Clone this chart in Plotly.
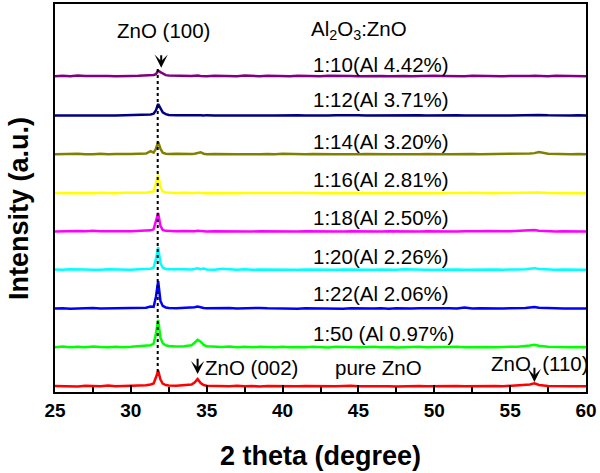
import plotly.graph_objects as go

# 2-theta positions (degree)
two_theta = [25.0, 25.5, 26.0, 26.5, 27.0, 27.5, 28.0, 28.5, 29.0, 29.5,
             30.0, 30.5, 31.0, 31.3, 31.5, 31.65, 31.8, 31.95, 32.1, 32.3,
             32.5, 33.0, 33.5, 34.0, 34.2, 34.4, 34.6, 34.8, 35.0, 35.5,
             36.0, 36.5, 37.0, 37.5, 38.0, 38.5, 39.0, 39.5, 40.0, 40.5,
             41.0, 41.5, 42.0, 42.5, 43.0, 43.5, 44.0, 44.5, 45.0, 45.5,
             46.0, 46.5, 47.0, 47.5, 48.0, 48.5, 49.0, 49.5, 50.0, 50.5,
             51.0, 51.5, 52.0, 52.5, 53.0, 53.5, 54.0, 54.5, 55.0, 55.5,
             56.0, 56.3, 56.6, 56.9, 57.5, 58.0, 58.5, 59.0, 59.5, 60.0]

pure_zno = [0.5, 0.2, 0.6, 0.1, 0.8, 0.3, 0.4, 1.0, 0.2, 0.5,
            0.7, 0.9, 1.2, 2.0, 3.0, 9.0, 16.0, 7.0, 3.0, 1.5,
            1.0, 0.8, 1.2, 2.0, 4.0, 7.5, 3.5, 1.5, 0.8, 0.5,
            0.6, 0.3, 0.7, 0.2, 0.5, 0.1, 0.6, 0.4, 0.3, 0.7,
            0.2, 0.5, 0.3, 0.8, 0.4, 0.2, 0.6, 0.9, 0.3, 0.5,
            0.2, 0.7, 0.4, 0.1, 0.5, 0.3, 0.6, 0.2, 0.4, 0.5,
            0.3, 0.6, 0.2, 0.4, 0.7, 0.3, 0.5, 0.2, 0.6, 0.8,
            1.2, 2.0, 3.2, 1.5, 0.6, 0.3, 0.5, 0.2, 0.4, 0.3]

r1_50 = [0.5, 1.2, 0.6, 1.0, 0.4, 1.3, 0.7, 0.5, 1.1, 0.6,
         0.9, 1.3, 1.8, 2.5, 4.0, 14.0, 28.0, 10.0, 4.5, 2.5,
         1.8, 1.2, 1.5, 2.5, 5.0, 8.0, 6.0, 2.8, 1.5, 1.0,
         0.8, 1.2, 0.6, 0.9, 0.4, 1.0, 0.7, 0.5, 0.9, 0.4,
         0.8, 0.5, 1.0, 0.6, 0.3, 0.9, 0.5, 0.8, 0.4, 0.7,
         1.0, 0.5, 0.8, 0.3, 0.7, 0.5, 0.9, 0.4, 0.6, 0.8,
         0.5, 0.9, 0.4, 0.7, 0.3, 0.8, 0.6, 0.4, 0.9, 1.0,
         1.5, 2.2, 3.0, 2.0, 1.0, 0.6, 0.8, 0.4, 0.7, 0.5]

r1_22 = [0.4, 0.8, 0.3, 0.7, 0.5, 0.9, 0.4, 0.6, 0.3, 0.8,
         0.5, 0.9, 1.2, 2.5, 2.0, 12.0, 28.0, 8.0, 3.0, 1.5,
         1.0, 0.8, 1.0, 1.2, 1.8, 2.5, 1.5, 1.0, 0.6, 0.8,
         0.5, 0.9, 0.4, 0.7, 0.5, 1.0, 0.6, 0.4, 0.8, 0.5,
         0.3, 0.7, 0.5, 0.9, 0.4, 0.6, 0.3, 0.8, 0.5, 0.7,
         0.4, 0.6, 0.3, 0.8, 0.5, 0.4, 0.7, 0.5, 0.3, 0.6,
         0.8, 0.4, 1.5, 0.5, 0.7, 0.4, 0.6, 0.5, 0.8, 0.6,
         1.0, 1.5, 2.0, 1.2, 0.6, 0.8, 0.4, 0.6, 0.5, 0.4]

r1_20 = [0.6, 0.3, 0.8, 0.4, 0.7, 0.5, 0.3, 0.9, 0.5, 0.6,
         0.4, 0.8, 1.0, 1.5, 2.5, 11.0, 23.0, 7.0, 2.5, 1.2,
         0.8, 0.5, 0.9, 0.7, 1.2, 1.8, 1.0, 1.5, 0.7, 0.5,
         1.4, 0.6, 0.4, 0.8, 0.3, 0.7, 0.5, 0.4, 0.8, 0.5,
         0.3, 0.6, 0.4, 0.7, 0.5, 0.3, 0.6, 0.4, 0.7, 0.5,
         0.3, 0.6, 0.4, 0.5, 0.8, 0.4, 0.6, 0.3, 0.5, 0.7,
         0.4, 0.6, 0.3, 0.5, 0.7, 0.4, 0.6, 0.5, 0.3, 0.6,
         1.0, 1.4, 2.0, 1.2, 0.6, 0.4, 0.7, 0.5, 0.6, 0.4]

r1_18 = [0.4, 0.7, 0.3, 0.9, 0.5, 1.1, 0.6, 0.4, 0.8, 0.5,
         0.6, 0.9, 1.0, 1.5, 2.5, 10.0, 19.0, 6.0, 2.0, 1.0,
         0.8, 0.6, 0.9, 0.5, 0.7, 1.0, 0.6, 0.8, 0.4, 0.7,
         0.5, 0.8, 0.4, 0.6, 0.3, 0.7, 0.5, 0.8, 0.4, 0.6,
         0.3, 0.7, 0.5, 0.4, 0.8, 0.5, 0.3, 0.6, 0.4, 0.7,
         0.5, 0.3, 0.6, 0.4, 0.7, 0.5, 0.3, 0.6, 0.4, 0.5,
         0.7, 0.4, 0.6, 0.3, 0.5, 0.8, 0.4, 0.6, 0.5, 0.7,
         1.0, 1.3, 1.8, 1.1, 0.6, 0.4, 0.6, 0.3, 0.5, 0.4]

r1_16 = [0.5, 0.3, 0.7, 0.4, 0.6, 0.3, 0.8, 0.5, 0.4, 0.7,
         0.5, 0.8, 0.9, 1.3, 2.2, 10.0, 19.0, 6.5, 2.0, 1.0,
         0.7, 0.5, 0.8, 0.4, 0.6, 0.9, 0.5, 0.7, 0.4, 0.6,
         0.4, 0.7, 0.3, 0.6, 0.5, 0.8, 0.4, 0.6, 0.3, 0.5,
         0.7, 0.4, 0.6, 0.3, 0.5, 0.8, 0.4, 0.6, 0.5, 0.3,
         0.6, 0.4, 0.7, 0.5, 0.3, 0.6, 0.4, 0.7, 0.5, 0.4,
         0.6, 0.3, 0.5, 0.7, 0.4, 0.6, 0.3, 0.5, 0.7, 0.6,
         0.9, 1.2, 1.6, 1.0, 0.6, 0.4, 0.5, 0.3, 0.6, 0.4]

r1_14 = [0.5, 0.8, 0.4, 0.9, 0.6, 0.4, 1.0, 0.5, 0.8, 0.6,
         0.7, 1.0, 1.2, 3.5, 2.0, 6.0, 13.0, 6.0, 2.0, 1.0,
         0.7, 0.9, 0.6, 0.8, 1.0, 1.5, 2.5, 1.0, 0.6, 0.8,
         0.5, 0.9, 0.6, 0.4, 0.8, 0.5, 0.7, 0.4, 0.9, 0.5,
         0.6, 0.4, 0.8, 0.5, 0.7, 0.4, 0.6, 0.9, 0.5, 0.7,
         0.4, 0.8, 0.5, 0.6, 0.4, 0.7, 0.5, 0.8, 0.4, 0.6,
         0.5, 0.8, 0.4, 0.7, 0.5, 0.6, 0.4, 0.8, 0.5, 0.7,
         0.9, 1.2, 1.6, 2.8, 1.0, 0.6, 0.8, 0.5, 0.7, 0.5]

r1_12 = [0.4, 0.6, 0.3, 0.7, 0.5, 0.4, 0.8, 0.5, 0.3, 0.6,
         0.5, 0.7, 1.0, 1.5, 2.2, 5.5, 12.0, 8.0, 3.5, 1.8,
         1.0, 0.7, 0.9, 0.6, 0.8, 1.0, 0.7, 0.5, 0.8, 0.4,
         0.6, 0.3, 0.7, 0.5, 0.4, 0.8, 0.5, 0.3, 0.6, 0.4,
         0.7, 0.5, 0.3, 0.6, 0.4, 0.8, 0.5, 0.3, 0.6, 0.4,
         0.5, 0.7, 0.4, 0.6, 0.3, 0.5, 0.8, 0.4, 0.6, 0.5,
         0.3, 0.6, 0.4, 0.7, 0.5, 0.3, 0.6, 0.5, 0.4, 0.7,
         0.8, 1.1, 1.5, 1.0, 0.6, 0.4, 0.5, 0.3, 0.6, 0.5]

r1_10 = [0.5, 0.9, 0.4, 1.2, 0.6, 0.8, 0.4, 0.7, 0.5, 0.9,
         0.6, 0.8, 1.0, 1.2, 1.6, 2.5, 6.0, 4.5, 3.0, 1.5,
         1.2, 0.8, 1.0, 0.6, 0.9, 1.2, 0.7, 0.9, 0.5, 0.8,
         0.6, 0.9, 0.5, 1.1, 0.6, 0.4, 0.8, 0.5, 0.7, 0.4,
         0.8, 0.5, 0.7, 0.4, 0.9, 0.6, 0.4, 0.7, 0.5, 0.8,
         0.4, 0.7, 0.5, 0.9, 0.6, 0.4, 0.7, 0.5, 0.8, 0.6,
         0.4, 0.7, 0.5, 0.8, 0.6, 0.4, 0.9, 0.5, 0.7, 0.5,
         0.8, 0.6, 0.9, 0.7, 0.5, 0.8, 0.6, 0.4, 0.7, 0.5]

series_names = ["pure ZnO", "1:50 (Al 0.97%)", "1:22(Al 2.06%)", "1:20(Al 2.26%)",
                "1:18(Al 2.50%)", "1:16(Al 2.81%)", "1:14(Al 3.20%)",
                "1:12(Al 3.71%)", "1:10(Al 4.42%)"]
series_values = [pure_zno, r1_50, r1_22, r1_20, r1_18, r1_16, r1_14, r1_12, r1_10]
offsets = [5.5, 44.5, 83.5, 122.5, 161.0, 199.5, 238.5, 277.5, 317.0]
colors = ["#FF0000", "#00FF00", "#0000FF", "#00FFFF", "#FF00FF",
          "#FFFF00", "#808000", "#000080", "#800080"]

# label positions (intensity) for series annotations
label_y = [25, 59, 99, 136, 175, 214, 252, 294, 329]

peak_100 = 31.77
peak_002 = 34.4
peak_110 = 56.6

fig = go.Figure()
for name, vals, off, col in zip(series_names, series_values, offsets, colors):
    fig.add_trace(go.Scatter(
        x=two_theta, y=[v + off for v in vals], mode="lines", name=name,
        line=dict(color=col, width=2.5), showlegend=False))

FONT = "Arial, Liberation Sans, Helvetica, sans-serif"
LBL = 20.5
annotations = []
for name, ly in zip(series_names, label_y):
    lx = 43.3 if name == "pure ZnO" else 41.85
    annotations.append(dict(x=lx, y=ly, xref="x", yref="y", text=name, showarrow=False,
                            xanchor="left", yanchor="middle",
                            font=dict(family=FONT, size=LBL, color="black")))
annotations.append(dict(x=41.75, y=364, xref="x", yref="y",
                        text="Al<sub>2</sub>O<sub>3</sub>:ZnO", showarrow=False,
                        xanchor="left", yanchor="middle",
                        font=dict(family=FONT, size=LBL, color="black")))
annotations.append(dict(x=32.12, y=363, xref="x", yref="y", text="ZnO (100)",
                        showarrow=False, xanchor="center", yanchor="middle",
                        font=dict(family=FONT, size=LBL, color="black")))
annotations.append(dict(x=34.75, y=25, xref="x", yref="y", text="ZnO (002)",
                        showarrow=False, xanchor="left", yanchor="middle",
                        font=dict(family=FONT, size=LBL, color="black")))
annotations.append(dict(x=53.6, y=29, xref="x", yref="y", text="ZnO  (110)",
                        showarrow=False, xanchor="left", yanchor="middle",
                        font=dict(family=FONT, size=LBL, color="black")))
# arrows
for ax_, y0, y1 in [(32.0, 340, 326), (peak_002, 35, 18), (peak_110, 26, 10)]:
    annotations.append(dict(x=ax_, y=y1, ax=ax_, ay=y0, xref="x", yref="y",
                            axref="x", ayref="y", text="", showarrow=True,
                            arrowhead=3, arrowsize=1.1, arrowwidth=2,
                            arrowcolor="black"))
# axis titles
annotations.append(dict(x=0.5, y=-0.166, xref="paper", yref="paper",
                        text="2 theta (degree)", showarrow=False,
                        xanchor="center", yanchor="middle",
                        font=dict(family=FONT, size=27, color="black", weight="bold")))
annotations.append(dict(x=-0.068, y=0.474, xref="paper", yref="paper",
                        text="Intensity (a.u.)", showarrow=False, textangle=-90,
                        xanchor="center", yanchor="middle",
                        font=dict(family=FONT, size=27, color="black", weight="bold")))

fig.add_shape(type="line", x0=peak_100, x1=peak_100, y0=20, y1=326, xref="x", yref="y",
              line=dict(color="black", width=2, dash="dot"))

fig.update_layout(
    width=600, height=473,
    margin=dict(l=55, r=14, t=2, b=81),
    paper_bgcolor="white", plot_bgcolor="white",
    annotations=annotations,
    xaxis=dict(range=[25, 60], dtick=5, tick0=25, showgrid=False, zeroline=False,
               showline=True, linecolor="black", linewidth=2, mirror=True,
               ticks="inside", ticklen=7, tickwidth=2, tickcolor="black",
               minor=dict(dtick=2.5, ticks="inside", ticklen=5, tickwidth=2, tickcolor="black"),
               tickfont=dict(family=FONT, size=19, color="black", weight="bold")),
    yaxis=dict(range=[0, 390], showgrid=False, zeroline=False, showticklabels=False,
               showline=True, linecolor="black", linewidth=2, mirror=True, ticks=""),
)

fig.write_html("out.html", config={"displayModeBar": False},
               post_script="document.body.style.margin='0px';")
